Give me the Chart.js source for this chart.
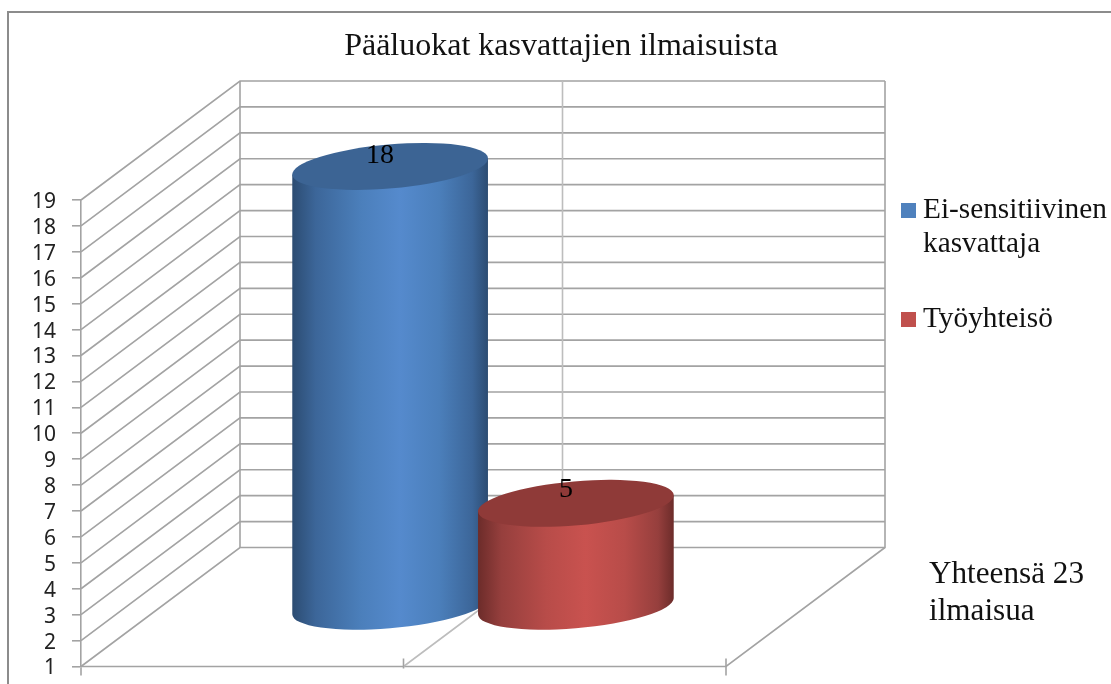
<!DOCTYPE html>
<html><head><meta charset="utf-8">
<style>html,body{margin:0;padding:0;background:#fff}#w{position:relative;width:1111px;height:684px}canvas{display:block}</style>
<script src="https://cdn.jsdelivr.net/npm/chart.js@4"></script>
</head><body><div id="w"><canvas id="c" width="1111" height="684"></canvas></div>
<script>
const categories = [''];
const seriesNames = ['Ei-sensitiivinen kasvattaja', 'Työyhteisö'];
const legendLines = [['Ei-sensitiivinen', 'kasvattaja'], ['Työyhteisö']];
const eiSensitiivinen = [18];
const tyoyhteiso = [5];
const seriesColors = ['#4f81bd', '#c0504d'];
const sideStops = [
  ['#2c4c72', '#3c6699', '#4b7fbb', '#558acd', '#4b7fbb', '#3c6699', '#2c4c72'],
  ['#6c2c2a', '#963f3d', '#b84c49', '#c9524f', '#b84c49', '#963f3d', '#6c2c2a']
];
const stopAt = [0, 0.12, 0.35, 0.55, 0.75, 0.92, 1];
const topColors = ['#3c6494', '#8f3a38'];
const titleText = 'Pääluokat kasvattajien ilmaisuista';
const noteLines = ['Yhteensä 23', 'ilmaisua'];
const yTicks = [1, 19];
const SERIF = '"Liberation Serif", "Times New Roman", serif';
const GRID = '#a3a3a3';
const DEPTH = {x: 159, y: -119};

function drawCylinder(ctx, el, i) {
  const cx = el.x + DEPTH.x / 2, yT = el.y + DEPTH.y / 2, yB = el.base + DEPTH.y / 2;
  const hx = el.width / 2;
  const a = hx * 1.003, b = 22, rot = -4.95 * Math.PI / 180;
  const t0 = Math.atan2(-b * Math.sin(rot), a * Math.cos(rot));
  const rx = a * Math.cos(t0) * Math.cos(rot) - b * Math.sin(t0) * Math.sin(rot);
  const ry = a * Math.cos(t0) * Math.sin(rot) + b * Math.sin(t0) * Math.cos(rot);
  ctx.save();
  const g = ctx.createLinearGradient(cx - rx, 0, cx + rx, 0);
  stopAt.forEach((s, k) => g.addColorStop(s, sideStops[i][k]));
  ctx.fillStyle = g;
  ctx.beginPath();
  ctx.ellipse(cx, yB, a, b, rot, t0, t0 + Math.PI, false);
  ctx.lineTo(cx - rx, yT - ry);
  ctx.lineTo(cx + rx, yT + ry);
  ctx.closePath(); ctx.fill();
  ctx.fillStyle = topColors[i];
  ctx.beginPath(); ctx.ellipse(cx, yT, a, b, rot, 0, Math.PI * 2); ctx.fill();
  ctx.restore();
}

const cylinder = {
  id: 'cylinder',
  beforeDatasetsDraw(chart) {
    const {ctx, scales: {x, y}} = chart;
    ctx.save();
    ctx.strokeStyle = '#8c8c8c'; ctx.lineWidth = 2;
    ctx.beginPath(); ctx.moveTo(8, 684); ctx.lineTo(8, 12); ctx.lineTo(1111, 12); ctx.stroke();
    ctx.strokeStyle = GRID; ctx.lineWidth = 1.6;
    const bl = x.left + DEPTH.x, br = x.right + DEPTH.x;
    y.ticks.forEach(t => {
      const py = y.getPixelForValue(t.value);
      ctx.beginPath(); ctx.moveTo(x.left, py); ctx.lineTo(bl, py + DEPTH.y); ctx.lineTo(br, py + DEPTH.y); ctx.stroke();
    });
    const yb = y.getPixelForValue(y.min), yt = y.getPixelForValue(y.max);
    ctx.beginPath(); ctx.moveTo(bl, yt + DEPTH.y); ctx.lineTo(bl, yb + DEPTH.y); ctx.stroke();
    ctx.beginPath(); ctx.moveTo(br, yt + DEPTH.y); ctx.lineTo(br, yb + DEPTH.y); ctx.lineTo(x.right, yb); ctx.lineTo(x.left, yb); ctx.stroke();
    const mid = (x.left + x.right) / 2;
    ctx.strokeStyle = '#bdbdbd';
    ctx.beginPath(); ctx.moveTo(mid + DEPTH.x, yt + DEPTH.y); ctx.lineTo(mid + DEPTH.x, yb + DEPTH.y); ctx.lineTo(mid, yb); ctx.stroke();
    ctx.strokeStyle = GRID;
    [[x.left, yb + 1, yb + 9], [mid, yb - 8, yb + 2], [x.right, yb - 8, yb + 9]].forEach(([px, a, b]) => {
      ctx.beginPath(); ctx.moveTo(px, a); ctx.lineTo(px, b); ctx.stroke();
    });
    ctx.restore();
  },
  beforeDatasetDraw() { return false; },
  afterDatasetsDraw(chart) {
    const {ctx} = chart;
    chart.data.datasets.forEach((ds, i) => drawCylinder(ctx, chart.getDatasetMeta(i).data[0], i));
    ctx.save();
    ctx.fillStyle = '#000'; ctx.textAlign = 'center'; ctx.textBaseline = 'alphabetic';
    ctx.font = '28px ' + SERIF;
    chart.data.datasets.forEach((ds, i) => {
      const el = chart.getDatasetMeta(i).data[0];
      ctx.fillText(String(ds.data[0]), el.x + DEPTH.x / 2 - 10, el.y + DEPTH.y / 2 - 3 - i * 3);
    });
    ctx.fillStyle = '#111';
    ctx.font = '32px ' + SERIF;
    ctx.fillText(titleText, 561, 55);
    ctx.textAlign = 'left';
    ctx.font = '29.3px ' + SERIF;
    const lg = [[203, [218, 252]], [312, [327]]];
    lg.forEach(([sq, bases], i) => {
      ctx.fillStyle = seriesColors[i]; ctx.fillRect(901, sq, 15, 15);
      ctx.fillStyle = '#111';
      legendLines[i].forEach((s, j) => ctx.fillText(s, 923, bases[j]));
    });
    ctx.font = '31.2px ' + SERIF;
    ctx.fillText(noteLines[0], 929, 583);
    ctx.fillText(noteLines[1], 929, 620);
    ctx.restore();
  }
};

new Chart(document.getElementById('c'), {
  type: 'bar',
  data: {
    labels: categories,
    datasets: [
      {label: seriesNames[0], data: eiSensitiivinen, backgroundColor: seriesColors[0], base: yTicks[0]},
      {label: seriesNames[1], data: tyoyhteiso, backgroundColor: seriesColors[1], base: yTicks[0]}
    ]
  },
  plugins: [cylinder],
  options: {
    responsive: false, animation: false,
    layout: {padding: {left: 0, top: 200, right: 385, bottom: 17.5}},
    datasets: {bar: {categoryPercentage: 0.576, barPercentage: 1.054}},
    plugins: {legend: {display: false}, title: {display: false}, tooltip: {enabled: false}},
    scales: {
      x: {display: false, grid: {display: false}},
      y: {
        min: yTicks[0], max: yTicks[1],
        afterFit(s) { s.width = 81; s.paddingTop = 0; s.paddingBottom = 0; },
        grid: {drawOnChartArea: false, tickLength: 9, color: GRID, lineWidth: 1.6},
        border: {display: true, color: GRID, width: 1.6},
        ticks: {stepSize: 1, autoSkip: false, padding: 16, labelOffset: 2, color: '#222', font: {family: '"Noto Sans", "Open Sans", sans-serif', size: 21}}
      }
    }
  }
});
</script></body></html>
